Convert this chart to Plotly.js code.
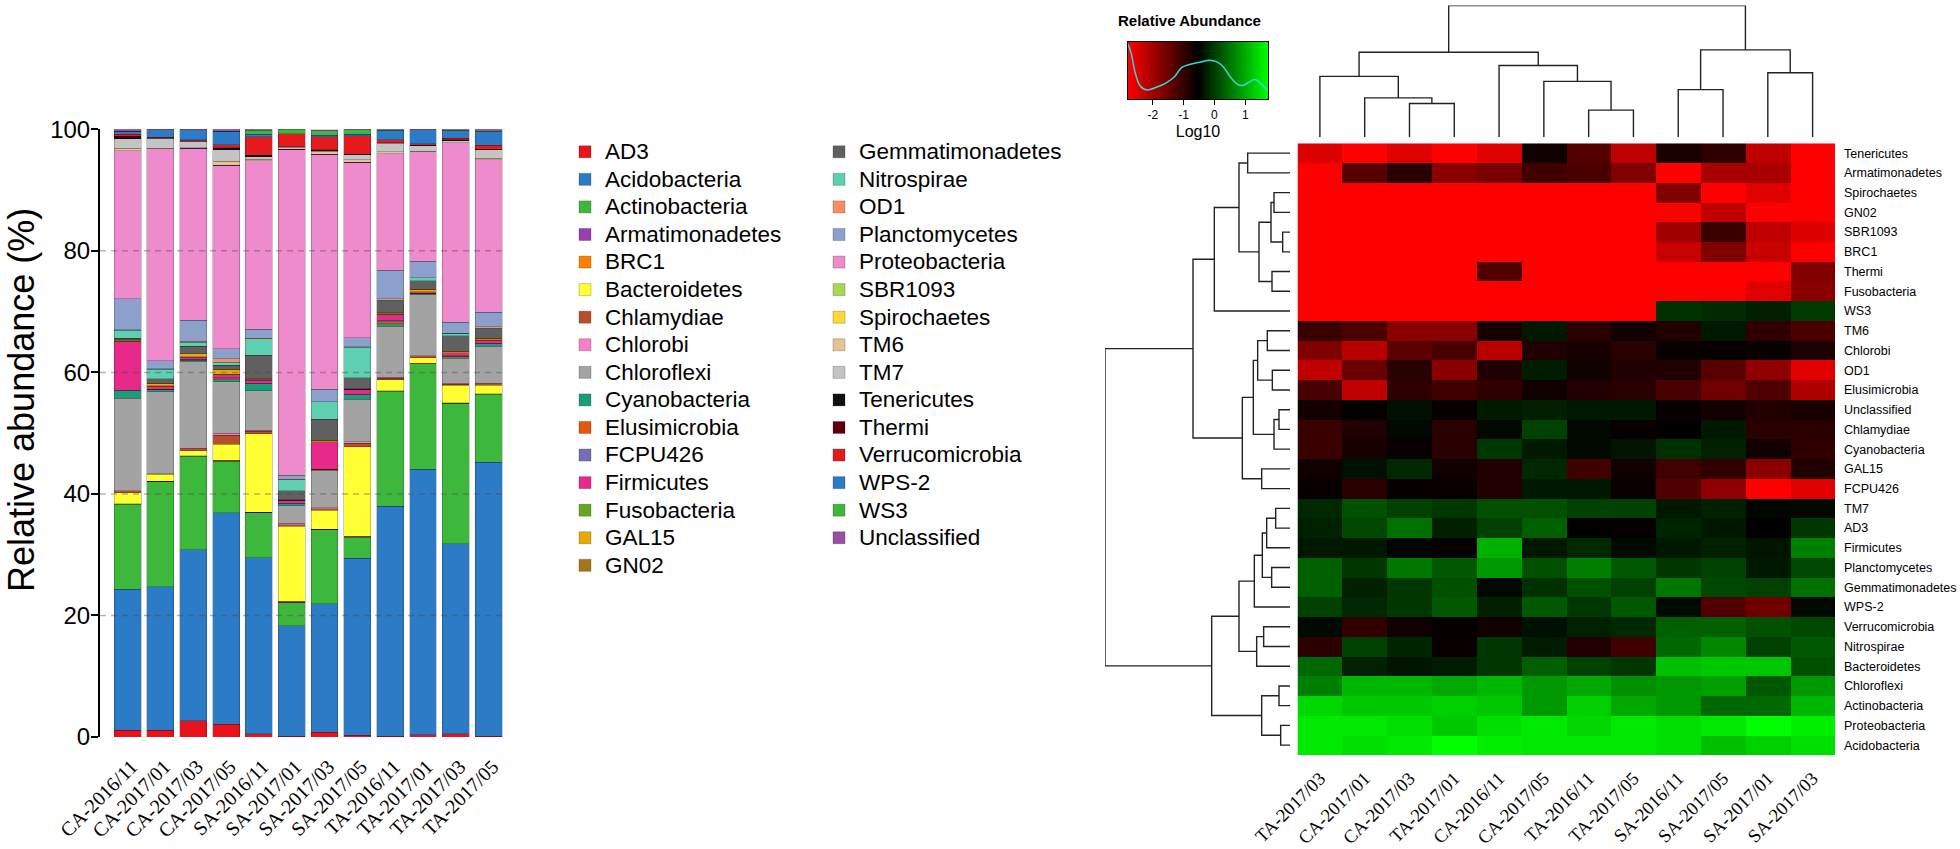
<!DOCTYPE html>
<html><head><meta charset="utf-8">
<script src="https://cdn.plot.ly/plotly-3.0.1.min.js"></script>
<style>html,body{margin:0;padding:0;background:#fff}#chart{width:1960px;height:849px}</style>
</head><body><div id="chart"></div>
<script>
// ---------- stacked bar data (relative abundance, %) ----------
const samples = ['CA-2016/11','CA-2017/01','CA-2017/03','CA-2017/05','SA-2016/11','SA-2017/01','SA-2017/03','SA-2017/05','TA-2016/11','TA-2017/01','TA-2017/03','TA-2017/05'];
const phyla = ['AD3','Acidobacteria','Actinobacteria','Armatimonadetes','BRC1','Bacteroidetes','Chlamydiae','Chlorobi','Chloroflexi','Cyanobacteria','Elusimicrobia','FCPU426','Firmicutes','Fusobacteria','GAL15','GN02','Gemmatimonadetes','Nitrospirae','OD1','Planctomycetes','Proteobacteria','SBR1093','Spirochaetes','TM6','TM7','Tenericutes','Thermi','Verrucomicrobia','WPS-2','WS3','Unclassified'];
const phylumColors = ['#E8141B','#2B7BC7','#3DB83D','#9A3FAF','#FF8000','#FFFF33','#B5502A','#F781C8','#A3A3A3','#1B9E77','#E6550D','#7570B3','#E7298A','#66A61E','#E6AB02','#A6761D','#606060','#5ECFB0','#FC8D62','#8DA0CB','#EE8BCC','#A6D854','#FFD92F','#E5C494','#C4C4C4','#111111','#5E0010','#E41A1C','#2B7BC7','#3DB83D','#984EA3'];

const AD3 =              [1.1, 1.1, 2.7, 2.1, 0.55, 0.1, 0.8, 0.3, 0.1, 0.4, 0.55, 0.15];
const Acidobacteria =    [23.2, 23.6, 28.1, 34.8, 28.95, 18.2, 21.1, 29.1, 37.9, 43.7, 31.25, 45.05];
const Actinobacteria =   [14.0, 17.3, 15.4, 8.5, 7.4, 3.8, 12.2, 3.5, 18.9, 17.3, 23.1, 11.2];
const Armatimonadetes =  [0.05, 0.05, 0.05, 0.1, 0.05, 0.05, 0.05, 0.05, 0.05, 0.05, 0.05, 0.05];
const BRC1 =             [0.05, 0.05, 0.05, 0.05, 0.05, 0.2, 0.05, 0.05, 0.05, 0.05, 0.05, 0.05];
const Bacteroidetes =    [1.8, 1.1, 0.8, 2.6, 12.9, 12.3, 3.1, 14.8, 1.8, 0.9, 2.9, 1.4];
const Chlamydiae =       [0.3, 0.1, 0.3, 1.5, 0.4, 0.3, 0.3, 0.5, 0.2, 0.3, 0.15, 0.2];
const Chlorobi =         [0.05, 0.05, 0.1, 0.3, 0.2, 0.2, 0.1, 0.3, 0.2, 0.05, 0.15, 0.1];
const Chloroflexi =      [15.2, 13.5, 14.3, 8.5, 6.5, 2.9, 6.2, 7.0, 8.4, 10.0, 4.1, 6.1];
const Cyanobacteria =    [1.2, 0.3, 0.2, 0.3, 1.1, 0.3, 0.1, 0.7, 0.4, 0.2, 0.3, 0.4];
const Elusimicrobia =    [0.05, 0.05, 0.1, 0.2, 0.05, 0.05, 0.05, 0.05, 0.3, 0.05, 0.05, 0.05];
const FCPU426 =          [0.05, 0.05, 0.1, 0.2, 0.05, 0.05, 0.05, 0.05, 0.3, 0.05, 0.05, 0.05];
const Firmicutes =       [8.0, 0.5, 0.3, 0.5, 0.5, 0.5, 4.5, 0.8, 0.9, 0.2, 0.5, 0.5];
const Fusobacteria =     [0.05, 0.05, 0.05, 0.05, 0.05, 0, 0, 0, 0.05, 0.05, 0.05, 0.05];
const GAL15 =            [0.2, 0.4, 0.5, 0.8, 0.15, 0.05, 0.2, 0.05, 0.2, 0.3, 0.2, 0.25];
const GN02 =             [0.05, 0.05, 0.05, 0.05, 0.05, 0.05, 0.05, 0.05, 0.05, 0.05, 0.05, 0.05];
const Gemmatimonadetes = [0.3, 0.7, 1.2, 0.6, 3.9, 1.5, 3.4, 1.8, 2.0, 1.4, 2.5, 1.5];
const Nitrospirae =      [1.3, 1.6, 0.7, 0.5, 2.7, 1.8, 2.9, 5.0, 0.1, 0.5, 0.4, 0.1];
const OD1 =              [0.1, 0.05, 0.1, 0.6, 0.05, 0.05, 0.05, 0.1, 0.2, 0.05, 0.05, 0.3];
const Planctomycetes =   [5.1, 1.3, 3.5, 1.6, 1.5, 0.7, 2.0, 1.5, 4.7, 2.7, 1.8, 2.35];
const Proteobacteria =   [24.3, 34.9, 28.3, 30.2, 27.7, 53.6, 38.7, 28.9, 19.2, 18.0, 29.5, 25.1];
const SBR1093 =          [0, 0, 0, 0, 0, 0, 0, 0, 0, 0, 0, 0];
const Spirochaetes =     [0, 0, 0, 0, 0, 0, 0, 0, 0, 0, 0, 0];
const TM6 =              [0.4, 0.1, 0.1, 0.7, 0.3, 0.05, 0.5, 0.4, 0.3, 0.1, 0.05, 0.2];
const TM7 =              [1.6, 1.6, 1.0, 1.9, 0.4, 0.3, 0.1, 0.8, 1.4, 0.9, 0.35, 1.4];
const Tenericutes =      [0.2, 0.05, 0.05, 0.2, 0.2, 0.05, 0.05, 0.05, 0.05, 0.05, 0.05, 0.05];
const Thermi =           [0.2, 0.05, 0.05, 0.1, 0.05, 0.05, 0.05, 0.05, 0.05, 0.05, 0.05, 0.05];
const Verrucomicrobia =  [0.3, 0.1, 0.2, 0.5, 3.0, 2.1, 2.2, 3.0, 0.5, 0.2, 0.3, 0.7];
const WPS_2 =            [0.5, 1.2, 1.6, 2.2, 0.4, 0.05, 0.2, 0.3, 1.5, 2.3, 1.25, 2.2];
const WS3 =              [0.05, 0.05, 0.05, 0.05, 0.7, 0.7, 0.8, 0.7, 0.05, 0.05, 0.05, 0.05];
const Unclassified =     [0.3, 0.1, 0.1, 0.35, 0.2, 0.05, 0.15, 0.15, 0.15, 0.1, 0.15, 0.35];

const barSeries = [AD3, Acidobacteria, Actinobacteria, Armatimonadetes, BRC1, Bacteroidetes, Chlamydiae, Chlorobi, Chloroflexi, Cyanobacteria, Elusimicrobia, FCPU426, Firmicutes, Fusobacteria, GAL15, GN02, Gemmatimonadetes, Nitrospirae, OD1, Planctomycetes, Proteobacteria, SBR1093, Spirochaetes, TM6, TM7, Tenericutes, Thermi, Verrucomicrobia, WPS_2, WS3, Unclassified];
const legendColumn1Count = 16;
const yTicks = [0, 20, 40, 60, 80, 100];

// ---------- heatmap data (log10 relative abundance) ----------
const heatCols = ['TA-2017/03','CA-2017/01','CA-2017/03','TA-2017/01','CA-2016/11','CA-2017/05','TA-2016/11','TA-2017/05','SA-2016/11','SA-2017/05','SA-2017/01','SA-2017/03'];
const heatRows = ['Tenericutes','Armatimonadetes','Spirochaetes','GN02','SBR1093','BRC1','Thermi','Fusobacteria','WS3','TM6','Chlorobi','OD1','Elusimicrobia','Unclassified','Chlamydiae','Cyanobacteria','GAL15','FCPU426','TM7','AD3','Firmicutes','Planctomycetes','Gemmatimonadetes','WPS-2','Verrucomicrobia','Nitrospirae','Bacteroidetes','Chloroflexi','Actinobacteria','Proteobacteria','Acidobacteria'];
const z_Tenericutes =      [-2.51, -2.81, -2.53, -2.81, -2.53, -0.68, -1.29, -2.25, -0.77, -0.96, -2.25, -2.81];
const z_Armatimonadetes =  [-2.81, -1.32, -0.89, -1.77, -1.61, -1.11, -1.20, -1.68, -2.81, -2.03, -2.03, -2.81];
const z_Spirochaetes =     [-2.81, -2.81, -2.81, -2.81, -2.81, -2.81, -2.81, -2.81, -1.68, -2.81, -2.53, -2.81];
const z_GN02 =             [-2.81, -2.81, -2.81, -2.81, -2.81, -2.81, -2.81, -2.81, -2.81, -2.25, -2.81, -2.81];
const z_SBR1093 =          [-2.81, -2.81, -2.81, -2.81, -2.81, -2.81, -2.81, -2.81, -1.96, -1.05, -2.25, -2.51];
const z_BRC1 =             [-2.81, -2.81, -2.81, -2.81, -2.81, -2.81, -2.81, -2.81, -2.32, -1.68, -2.32, -2.81];
const z_Thermi =           [-2.81, -2.81, -2.81, -2.81, -1.25, -2.81, -2.81, -2.81, -2.81, -2.81, -2.81, -1.68];
const z_Fusobacteria =     [-2.81, -2.81, -2.81, -2.81, -2.81, -2.81, -2.81, -2.81, -2.81, -2.81, -2.53, -1.77];
const z_WS3 =              [-2.81, -2.81, -2.81, -2.81, -2.81, -2.81, -2.81, -2.81, -0.11, -0.16, -0.25, -0.02];
const z_TM6 =              [-1.04, -1.20, -1.77, -1.77, -0.75, -0.32, -0.89, -0.68, -0.82, -0.32, -0.96, -1.20];
const z_Chlorobi =         [-1.68, -2.18, -1.34, -1.18, -2.18, -0.82, -0.75, -0.89, -0.61, -0.61, -0.62, -0.79];
const z_OD1 =              [-2.25, -1.46, -0.89, -1.77, -0.82, -0.29, -0.68, -0.82, -0.82, -1.32, -1.82, -2.53];
const z_Elusimicrobia =    [-1.18, -2.25, -0.96, -1.11, -0.96, -0.68, -0.82, -0.89, -1.18, -1.53, -1.25, -2.11];
const z_Unclassified =     [-0.71, -0.58, -0.39, -0.61, -0.30, -0.25, -0.32, -0.32, -0.61, -0.71, -0.82, -0.75];
const z_Chlamydiae =       [-1.04, -0.82, -0.46, -0.89, -0.46, 0.04, -0.46, -0.61, -0.54, -0.32, -0.89, -0.89];
const z_Cyanobacteria =    [-1.04, -0.75, -0.61, -0.89, -0.04, -0.30, -0.46, -0.36, -0.11, -0.25, -0.68, -0.96];
const z_GAL15 =            [-0.68, -0.39, -0.18, -0.68, -0.82, -0.18, -1.11, -0.68, -1.11, -0.96, -1.77, -0.82];
const z_FCPU426 =          [-0.61, -0.89, -0.61, -0.61, -0.82, -0.32, -0.32, -0.62, -1.25, -1.82, -2.81, -2.53];
const z_TM7 =              [-0.18, 0.18, 0.04, -0.04, 0.18, 0.18, 0.04, 0.04, -0.32, -0.25, -0.49, -0.46];
const z_AD3 =              [-0.25, 0.11, 0.46, -0.25, 0.04, 0.32, -0.54, -0.58, -0.21, -0.32, -0.54, -0.04];
const z_Firmicutes =       [-0.32, -0.32, -0.49, -0.58, 1.04, -0.32, -0.18, -0.45, -0.32, -0.25, -0.36, 0.61];
const z_Planctomycetes =   [0.32, -0.04, 0.54, 0.25, 0.82, 0.18, 0.61, 0.25, -0.04, 0.04, -0.32, 0.11];
const z_Gemmatimonadetes = [0.32, -0.25, -0.04, 0.18, -0.46, -0.11, 0.18, 0.04, 0.54, 0.11, 0.04, 0.46];
const z_WPS2 =             [0.04, -0.18, -0.04, 0.25, -0.25, 0.25, -0.04, 0.25, -0.45, -1.25, -1.53, -0.46];
const z_Verrucomicrobia =  [-0.45, -0.96, -0.68, -0.58, -0.68, -0.39, -0.25, -0.18, 0.32, 0.32, 0.18, 0.11];
const z_Nitrospirae =      [-0.91, 0.04, -0.21, -0.61, -0.04, -0.29, -0.82, -1.11, 0.39, 0.68, 0.04, 0.25];
const z_Bacteroidetes =    [0.39, -0.25, -0.36, -0.29, -0.04, 0.32, 0.04, -0.04, 1.18, 1.25, 1.25, 0.18];
const z_Chloroflexi =      [0.61, 1.11, 1.11, 0.96, 1.11, 0.82, 0.96, 0.75, 0.82, 0.89, 0.25, 0.82];
const z_Actinobacteria =   [1.39, 1.25, 1.25, 1.32, 1.25, 0.82, 1.32, 0.96, 0.82, 0.39, 0.39, 1.11];
const z_Proteobacteria =   [1.54, 1.54, 1.46, 1.25, 1.46, 1.54, 1.39, 1.54, 1.46, 1.54, 1.74, 1.61];
const z_Acidobacteria =    [1.54, 1.46, 1.54, 1.74, 1.61, 1.54, 1.54, 1.54, 1.46, 1.18, 1.32, 1.46];
const heatZ = [z_Tenericutes, z_Armatimonadetes, z_Spirochaetes, z_GN02, z_SBR1093, z_BRC1, z_Thermi, z_Fusobacteria, z_WS3, z_TM6, z_Chlorobi, z_OD1, z_Elusimicrobia, z_Unclassified, z_Chlamydiae, z_Cyanobacteria, z_GAL15, z_FCPU426, z_TM7, z_AD3, z_Firmicutes, z_Planctomycetes, z_Gemmatimonadetes, z_WPS2, z_Verrucomicrobia, z_Nitrospirae, z_Bacteroidetes, z_Chloroflexi, z_Actinobacteria, z_Proteobacteria, z_Acidobacteria];

// color key
const keyMin = -2.81, keyMax = 1.74;
const keyTicks = [-2, -1, 0, 1];
const keyTickText = ['-2', '-1', '0', '1'];
const densityX = [-2.81, -2.71, -2.59, -2.44, -2.31, -2.16, -1.87, -1.58, -1.30, -1.07, -0.78, -0.44, -0.15, 0.08, 0.31, 0.54, 0.77, 0.94, 1.11, 1.32, 1.51, 1.74];
const densityY = [0.96, 0.81, 0.49, 0.25, 0.18, 0.16, 0.21, 0.28, 0.39, 0.55, 0.61, 0.65, 0.68, 0.65, 0.55, 0.37, 0.25, 0.24, 0.29, 0.34, 0.27, 0.14];

// dendrograms (hclust-style merges: negative = leaf index (1-based), positive = earlier merge)
const colMerges = [[-3,-4],[-2,1],[-1,2],[-7,-8],[-6,4],[-5,5],[3,6],[-9,-10],[-11,-12],[8,9],[7,10]];
const colHeights = [102, 119, 184, 82, 169, 217, 257, 144, 195, 264, 398];
const rowMerges = [[-5,-6],[-3,-4],[2,1],[-7,-8],[3,4],[-1,-2],[6,5],[7,-9],[-10,-11],[-12,-13],[9,10],[-14,-15],[12,-16],[11,13],[-17,-18],[14,15],[8,16],[-19,-20],[18,-21],[-22,-23],[19,20],[21,-24],[-25,-26],[23,-27],[22,24],[-28,-29],[-30,-31],[26,27],[25,28],[17,29]];
const rowHeights = [22, 48, 57, 54, 93, 127, 153, 227, 68, 53, 97, 33, 48, 110, 85, 143, 291, 43, 70, 55, 83, 107, 79, 100, 153, 33, 28, 85, 235, 555];

// ---------- build ----------
function dendroLines(merges, heights) {
  const pos = [], hgt = [], a = [], b = [];
  merges.forEach((m, i) => {
    const p = m.map(c => c < 0 ? -c - 1 : pos[c - 1]);
    const h = m.map(c => c < 0 ? 0 : hgt[c - 1]);
    const H = heights[i];
    a.push(p[0], p[0], p[1], p[1], null);
    b.push(h[0], H, H, h[1], null);
    pos[i] = (p[0] + p[1]) / 2; hgt[i] = H;
  });
  return {p: a, h: b};
}

const heatScale = [[0, 'rgb(255,0,0)'], [0.5, 'rgb(0,0,0)'], [1, 'rgb(0,255,0)']];
const sans = 'Liberation Sans, Arial, sans-serif';
const serif = 'Liberation Serif, Times New Roman, serif';

const traces = [];
phyla.forEach((p, i) => {
  traces.push({
    type: 'bar', x: samples, y: barSeries[i],
    name: '<span style="font-size:22.5px">' + p + '</span>',
    marker: {color: phylumColors[i], line: {width: 0.6, color: 'rgba(0,0,0,0.35)'}},
    legend: i < legendColumn1Count ? 'legend' : 'legend2',
    xaxis: 'x', yaxis: 'y', hoverinfo: 'skip'
  });
});

traces.push({
  type: 'heatmap', x: heatCols, y: heatRows, z: heatZ,
  colorscale: heatScale, zmin: keyMin, zmax: keyMax, showscale: false,
  xaxis: 'x2', yaxis: 'y2', hoverinfo: 'skip'
});

const rd = dendroLines(rowMerges, rowHeights);
traces.push({type: 'scatter', mode: 'lines', x: rd.h, y: rd.p, line: {color: '#222', width: 1.4},
  xaxis: 'x3', yaxis: 'y3', showlegend: false, hoverinfo: 'skip', connectgaps: false});
const cd = dendroLines(colMerges, colHeights);
traces.push({type: 'scatter', mode: 'lines', x: cd.p, y: cd.h, line: {color: '#222', width: 1.4},
  xaxis: 'x5', yaxis: 'y5', showlegend: false, hoverinfo: 'skip', connectgaps: false});

traces.push({type: 'scatter', mode: 'lines', x: [keyMin, keyMax, keyMax, keyMin, keyMin], y: [0, 0, 1, 1, 0],
  fill: 'toself', fillgradient: {type: 'horizontal', colorscale: heatScale}, line: {width: 0},
  xaxis: 'x4', yaxis: 'y4', showlegend: false, hoverinfo: 'skip'});
traces.push({type: 'scatter', mode: 'lines', x: densityX, y: densityY, line: {color: '#33D6D6', width: 1.5, shape: 'spline'},
  xaxis: 'x4', yaxis: 'y4', showlegend: false, hoverinfo: 'skip'});

const W = 1960, H = 849;
const px = v => v / W, py = v => (H - v) / H;
const hidden = {showgrid: false, zeroline: false, showticklabels: false, showline: false, ticks: ''};

const layout = {
  width: W, height: H, margin: {l: 0, r: 0, t: 0, b: 0},
  paper_bgcolor: '#fff', plot_bgcolor: 'rgba(0,0,0,0)',
  font: {family: sans, color: '#000'},
  barmode: 'stack', bargap: 0.18,
  xaxis: {domain: [px(100), px(505.7)], anchor: 'y', type: 'category', range: [-0.84, 11.52],
    showline: false, ticks: '', showgrid: false, zeroline: false, tickangle: -45,
    tickfont: {family: serif, size: 20, color: '#000'}, ticklabelstandoff: 13, ticklabelshift: 4},
  yaxis: {domain: [py(737), py(129.3)], anchor: 'x', range: [0, 100], tickvals: yTicks,
    showline: true, linewidth: 2, linecolor: '#000', ticks: 'outside', ticklen: 7, tickwidth: 2, tickcolor: '#000',
    showgrid: false, zeroline: false, tickfont: {family: sans, size: 24, color: '#000'}, ticklabelstandoff: -4},
  xaxis2: {domain: [px(1297.5), px(1835)], anchor: 'y2', type: 'category', showgrid: false, zeroline: false,
    ticks: '', showline: false, tickangle: -45, tickfont: {family: serif, size: 18.5, color: '#000'}, ticklabelstandoff: 8},
  yaxis2: {domain: [py(755), py(143.3)], anchor: 'x2', type: 'category', autorange: 'reversed', side: 'right',
    tickmode: 'array', tickvals: heatRows, ticktext: heatRows,
    showgrid: false, zeroline: false, ticks: '', showline: false, tickfont: {family: sans, size: 12.5, color: '#000'}, ticklabelstandoff: 8},
  xaxis3: Object.assign({domain: [px(1105), px(1290)], anchor: 'y3', range: [555, 0]}, hidden),
  yaxis3: Object.assign({domain: [py(755), py(143.3)], anchor: 'x3', range: [30.5, -0.5]}, hidden),
  xaxis5: Object.assign({domain: [px(1297.5), px(1835)], anchor: 'y5', range: [-0.5, 11.5]}, hidden),
  yaxis5: Object.assign({domain: [py(137.3), py(5.5)], anchor: 'x5', range: [0, 398]}, hidden),
  xaxis4: {domain: [px(1128), px(1268)], anchor: 'y4', range: [keyMin, keyMax], tickvals: keyTicks, ticktext: keyTickText,
    ticks: 'outside', ticklen: 5, tickcolor: '#000', showline: true, mirror: true, linecolor: '#000', linewidth: 1,
    showgrid: false, zeroline: false, tickfont: {family: sans, size: 12, color: '#000'},
    title: {text: 'Log10', font: {family: sans, size: 16, color: '#000'}, standoff: 4}},
  yaxis4: {domain: [py(99), py(42)], anchor: 'x4', range: [0, 1], showline: true, mirror: true, linecolor: '#000', linewidth: 1,
    showgrid: false, zeroline: false, ticks: '', showticklabels: false},
  legend: {x: px(565), y: py(133), xanchor: 'left', yanchor: 'top', traceorder: 'normal', bgcolor: 'rgba(0,0,0,0)',
    font: {family: sans, size: 18.9, color: '#000'}, itemclick: false},
  legend2: {x: px(819), y: py(133), xanchor: 'left', yanchor: 'top', traceorder: 'normal', bgcolor: 'rgba(0,0,0,0)',
    font: {family: sans, size: 18.9, color: '#000'}, itemclick: false},
  shapes: yTicks.filter(v => v > 0 && v < 100).map(v => ({
    type: 'line', xref: 'x domain', yref: 'y', x0: 0, x1: 1, y0: v, y1: v, layer: 'above',
    line: {color: 'rgba(70,70,70,0.4)', width: 1.5, dash: '6px,5px'}
  })),
  annotations: [
    {text: '<b>Relative Abundance</b>', xref: 'paper', yref: 'paper', x: px(1189), y: py(21),
      xanchor: 'center', yanchor: 'middle', showarrow: false, font: {family: sans, size: 15, color: '#000'}},
    {text: 'Relative abundance (%)', xref: 'paper', yref: 'paper', x: px(21), y: py(400), textangle: -90,
      xanchor: 'center', yanchor: 'middle', showarrow: false, font: {family: sans, size: 36, color: '#000'}}
  ]
};

Plotly.newPlot('chart', traces, layout, {staticPlot: true, displayModeBar: false});
</script>
</body></html>
